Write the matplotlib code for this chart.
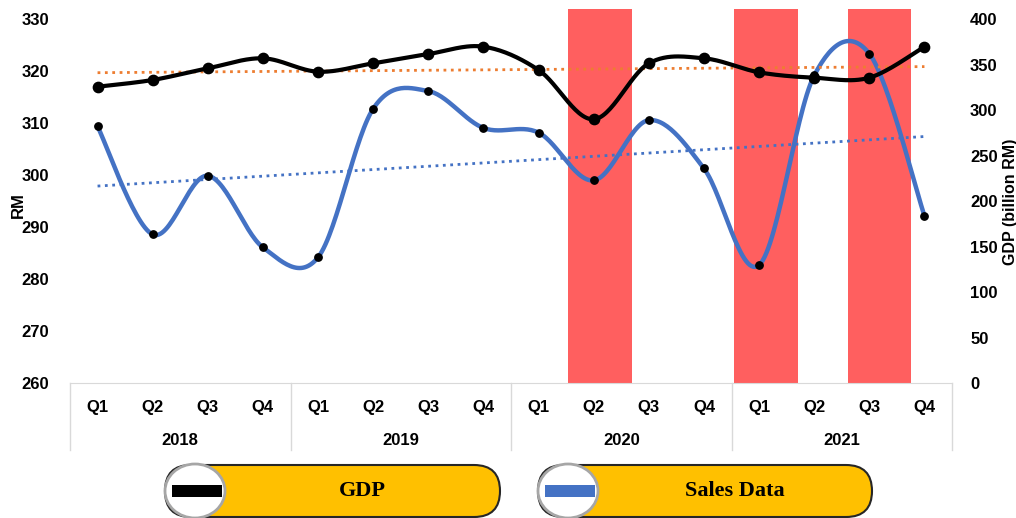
import numpy as np
import matplotlib
matplotlib.use("Agg")
import matplotlib.pyplot as plt
from matplotlib.patches import FancyBboxPatch, Ellipse, Rectangle

plt.rcParams["font.family"] = ["Liberation Sans", "DejaVu Sans"]

years = ["2018", "2019", "2020", "2021"]
quarters = ["Q1", "Q2", "Q3", "Q4"]
gdp = [325.6, 333.0, 345.8, 356.8, 342.1, 351.3, 361.5, 369.6,
       344.0, 289.8, 351.3, 356.8, 341.4, 335.5, 335.5, 369.6]      # billion RM
sales = [309.4, 288.6, 299.9, 286.1, 284.2, 312.8, 316.2, 309.1,
         308.2, 299.0, 310.6, 301.3, 282.7, 319.2, 323.4, 292.2]    # RM
# shaded periods, in category units
bands = [(8.54, 9.69), (11.55, 12.70), (13.62, 14.75)]

BLUE, ORANGE, RED = "#4472C4", "#ED7D31", "#FF5F5F"


def smooth(y, n=30):
    # Catmull-Rom curve through the points (like a spreadsheet's smoothed line)
    p = np.column_stack([np.arange(len(y)), y]).astype(float)
    p = np.vstack([p[0], p, p[-1]])
    out = []
    t = np.linspace(0, 1, n, endpoint=False)[:, None]
    for i in range(1, len(p) - 2):
        p0, p1, p2, p3 = p[i - 1], p[i], p[i + 1], p[i + 2]
        c1 = p1 + (p2 - p0) / 6
        c2 = p2 - (p3 - p1) / 6
        out.append((1 - t) ** 3 * p1 + 3 * (1 - t) ** 2 * t * c1 + 3 * (1 - t) * t ** 2 * c2 + t ** 3 * p2)
    out.append(p[-2][None, :])
    out = np.vstack(out)
    return out[:, 0], out[:, 1]


W, H = 1016, 518
fig = plt.figure(figsize=(W / 100, H / 100), dpi=100)
ax = fig.add_axes([70 / W, 135 / H, 882 / W, 374 / H])
ax2 = ax.twinx()

x = np.arange(len(sales))
for a, b in bands:
    ax.axvspan(a, b, color=RED, lw=0, zorder=0)

# sales on the left axis
sx, sy = smooth(sales)
ax.plot(sx, sy, color=BLUE, lw=3.2, zorder=3)
ax.scatter(x, sales, s=28, color="black", zorder=4)
k = np.polyfit(x, sales, 1)
ax.plot([0, 15], np.polyval(k, [0, 15]), ls=":", color=BLUE, lw=2, zorder=2)

# GDP on the right axis
gx, gy = smooth(gdp)
ax2.plot(gx, gy, color="black", lw=3, zorder=3)
ax2.scatter(x, gdp, s=55, color="black", zorder=4)
k2 = np.polyfit(x, gdp, 1)
ax2.plot([0, 15], np.polyval(k2, [0, 15]), ls=":", color=ORANGE, lw=2, zorder=2)

ax.set_xlim(-0.5, 15.5)
ax.set_ylim(260, 332)
ax.set_yticks(range(260, 331, 10))
ax2.set_ylim(0, 411)
ax2.set_yticks(range(0, 401, 50))

tick_kw = dict(fontsize=12, fontweight="bold")
for a in (ax, ax2):
    for s in a.spines.values():
        s.set_visible(False)
    a.tick_params(length=0)
ax.spines["bottom"].set_visible(True)
ax.spines["bottom"].set_color("#D9D9D9")
ax.set_yticklabels([str(v) for v in range(260, 331, 10)], **tick_kw)
ax2.set_yticklabels([str(v) for v in range(0, 401, 50)], **tick_kw)
ax.tick_params(axis="y", pad=15)
ax2.tick_params(axis="y", pad=13)
ax.set_xticks([])

fig.text(18 / W, 1 - 205 / H, "RM", rotation=90, ha="center", va="center", fontsize=12, fontweight="bold")
fig.text(1010 / W, 1 - 202 / H, "GDP (billion RM)", rotation=90, ha="center", va="center",
         fontsize=11.5, fontweight="bold")

# two-level category axis
tr = ax.get_xaxis_transform()
for i in range(len(x)):
    ax.text(i, -0.065, quarters[i % 4], transform=tr, ha="center", va="center", **tick_kw)
for j, yr in enumerate(years):
    ax.text(4 * j + 1.5, -0.153, yr, transform=tr, ha="center", va="center", **tick_kw)
for b in [-0.5, 3.5, 7.5, 11.5, 15.5]:
    ax.plot([b, b], [0, -0.18], transform=tr, color="#D9D9D9", lw=1, clip_on=False)

# legend capsules
lg = fig.add_axes([0, 0, 1, 1], zorder=5)
lg.set_xlim(0, W)
lg.set_ylim(H, 0)
lg.axis("off")
for x0, x1, label, col in [(165, 500, "GDP", "black"), (538, 872, "Sales Data", BLUE)]:
    lg.add_patch(FancyBboxPatch((x0, 465), x1 - x0, 52, boxstyle="round,pad=0,rounding_size=26",
                                fc="#FFC000", ec="#262626", lw=1.5))
    lg.add_patch(Ellipse((x0 + 30, 491), 60, 54, fc="white", ec="#A6A6A6", lw=2))
    lg.add_patch(Rectangle((x0 + 7, 485), 50, 12, fc=col, ec="none"))
    lg.text((x0 + 60 + x1) / 2, 491, label, ha="center", va="center", fontsize=16,
            fontweight="bold", family=["Liberation Serif", "DejaVu Serif"])

fig.savefig("out.png", dpi=100)
